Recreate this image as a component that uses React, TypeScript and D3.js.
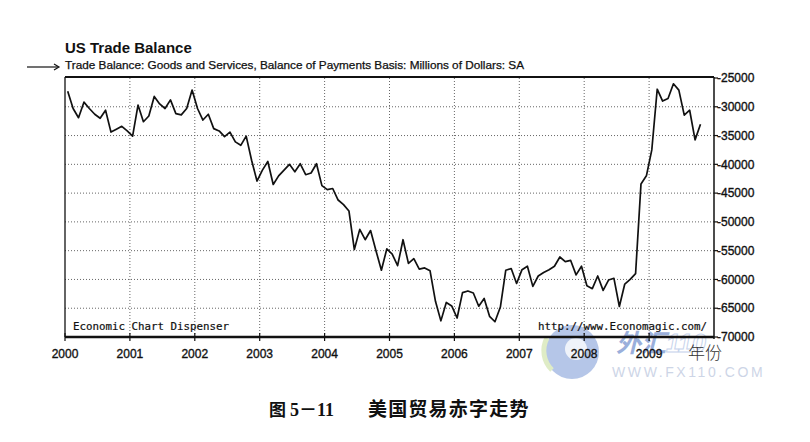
import React from "react";
import * as d3 from "d3";

// monthly trade balance, millions of dollars
const y2000 = [-27300, -30300, -31900, -29200, -30300, -31300, -32000, -30600, -34400, -33900, -33400, -34200];
const y2001 = [-35100, -29700, -32600, -31600, -28200, -29500, -30300, -28800, -31200, -31400, -30300, -27100];
const y2002 = [-30300, -32300, -31300, -33800, -34200, -35200, -34400, -36100, -36700, -35100, -39300, -42900];
const y2003 = [-41000, -39500, -43500, -42000, -41000, -40000, -41300, -39900, -41800, -41500, -39900, -43700];
const y2004 = [-44400, -44200, -46200, -47000, -48100, -54800, -51300, -53100, -51500, -55000, -58400, -54700];
const y2005 = [-55600, -57600, -53100, -57200, -56400, -58200, -58000, -58500, -63800, -67200, -64000, -64600];
const y2006 = [-66700, -62300, -62000, -62350, -64650, -63300, -66400, -67350, -64800, -58400, -58100, -60700];
const y2007 = [-58300, -57700, -61200, -59400, -58800, -58300, -57700, -56100, -56900, -56700, -59200, -57700];
const y2008 = [-61100, -61600, -59400, -61900, -60100, -59800, -64700, -60800, -60000, -59000, -43400, -42000];
const y2009 = [-37500, -26950, -29000, -28550, -26000, -27100, -31450, -30600, -35750, -33050];

const firstYear = 2000;
const yearTicks = [2000, 2001, 2002, 2003, 2004, 2005, 2006, 2007, 2008, 2009];
const valueTicks = [-25000, -30000, -35000, -40000, -45000, -50000, -55000, -60000, -65000, -70000];

const title = "US Trade Balance";
const seriesName =
  "Trade Balance: Goods and Services, Balance of Payments Basis: Millions of Dollars: SA";

const monthly = [y2000, y2001, y2002, y2003, y2004, y2005, y2006, y2007, y2008, y2009].flat();

const W = 810;
const H = 442;
const plot = { left: 65, right: 714, top: 78, bottom: 337 };
const sans = "'Liberation Sans', Arial, sans-serif";
const mono = "'DejaVu Sans Mono', 'Liberation Mono', monospace";
const cjk = "'Noto Sans CJK SC', sans-serif";
const ink = "#111";

const App: React.FC = () => {
  const x = d3.scaleLinear().domain([2000, 2010]).range([plot.left, plot.right]);
  const y = d3.scaleLinear().domain([-70000, -25000]).range([plot.bottom, plot.top]);

  const line = d3
    .line<number>()
    .x((_, i) => x(firstYear + (i + 0.5) / 12))
    .y((d) => y(d));

  return (
    <div style={{ position: "absolute", left: 0, top: 0 }}>
      <svg width={W} height={H} style={{ display: "block", background: "#fff" }}>
        {/* watermark */}
        <g opacity={0.65}>
          <circle cx={572} cy={352} r={27} fill="#8fa9dc" />
          <path d="M552,370 A27,27 0 0 1 547,338" fill="none" stroke="#cfe3a8" strokeWidth={5} />
          <circle cx={576} cy={349} r={11} fill="#e8eef8" />
          <text x={616} y={352} fontFamily={cjk} fontWeight={700} fontStyle="italic" fontSize={25} fill="#6585c8">
            外汇
          </text>
          <text x={666} y={352} fontFamily={sans} fontWeight={700} fontStyle="italic" fontSize={25} fill="#fff" stroke="#a9bde3" strokeWidth={1}>
            110
          </text>
          <text x={612} y={377} fontFamily={sans} fontSize={14} letterSpacing={2.6} fill="#b3c0da">
            WWW.FX110.COM
          </text>
        </g>

        {/* title and legend */}
        <text x={65} y={52.5} fontFamily={sans} fontWeight={700} fontSize={15} fill={ink}>
          {title}
        </text>
        <line x1={27} y1={67} x2={58} y2={67} stroke={ink} strokeWidth={1.2} />
        <path d="M54,64 L59,67 L54,70" fill="none" stroke={ink} strokeWidth={1.2} />
        <text x={65} y={69} fontFamily={sans} fontSize={11} fill={ink} stroke={ink} strokeWidth={0.25} textLength={459} lengthAdjust="spacingAndGlyphs">
          {seriesName}
        </text>

        {/* grid */}
        {valueTicks.slice(1, -1).map((v) => (
          <line key={`h${v}`} x1={plot.left} x2={plot.right} y1={y(v)} y2={y(v)} stroke="#666" strokeDasharray="1 2" />
        ))}
        {yearTicks.slice(1).map((yr) => (
          <line key={`v${yr}`} x1={x(yr)} x2={x(yr)} y1={plot.top} y2={plot.bottom} stroke="#666" strokeDasharray="1 2" />
        ))}

        {/* frame */}
        <line x1={plot.left} x2={plot.right} y1={plot.top - 1} y2={plot.top - 1} stroke={ink} strokeWidth={2} />
        <line x1={plot.left} x2={plot.left} y1={plot.top - 1} y2={plot.bottom} stroke={ink} strokeWidth={1.3} />
        <line x1={plot.right} x2={plot.right} y1={plot.top - 1} y2={plot.bottom + 2} stroke={ink} strokeWidth={1.5} />
        <line x1={plot.left} x2={plot.right} y1={plot.bottom} y2={plot.bottom} stroke={ink} strokeWidth={2.5} />

        {/* series */}
        <path d={line(monthly) ?? ""} fill="none" stroke={ink} strokeWidth={1.7} strokeLinejoin="round" />

        {/* footnotes inside plot */}
        <text x={73} y={329.5} fontFamily={mono} fontSize={10.8} fill={ink} stroke={ink} strokeWidth={0.2}>
          Economic Chart Dispenser
        </text>
        <text x={538} y={329.5} fontFamily={mono} fontSize={10.8} fill={ink} stroke={ink} strokeWidth={0.2}>
          http://www.Economagic.com/
        </text>

        {/* x axis */}
        {yearTicks.map((yr) => (
          <g key={`x${yr}`}>
            <line x1={x(yr)} x2={x(yr)} y1={plot.bottom - 4} y2={plot.bottom + 4} stroke={ink} strokeWidth={1.2} />
            <text x={x(yr)} y={358} textAnchor="middle" fontFamily={sans} fontSize={12} fill={ink} stroke={ink} strokeWidth={0.35}>
              {yr}
            </text>
          </g>
        ))}

        {/* right y axis */}
        {valueTicks.map((v) => (
          <g key={`y${v}`}>
            <line x1={plot.right} x2={plot.right + 4} y1={y(v)} y2={y(v)} stroke={ink} strokeWidth={1.2} />
            <text x={plot.right + 3} y={y(v)} dy="0.35em" fontFamily={sans} fontSize={12} fill={ink} stroke={ink} strokeWidth={0.35}>
              {String(v)}
            </text>
          </g>
        ))}

        <text x={688} y={359} fontFamily={cjk} fontWeight={300} fontSize={17} fill="#333">
          年份
        </text>

        {/* caption */}
        <text x={269} y={416} fontFamily={cjk} fontWeight={700} fontSize={17} fill={ink}>
          图
        </text>
        <text x={290} y={416} fontFamily={`'Liberation Serif', ${cjk}`} fontWeight={700} fontSize={18} fill={ink}>
          5－11
        </text>
        <text x={368} y={416} fontFamily={cjk} fontWeight={700} fontSize={19} letterSpacing={1.2} fill={ink}>
          美国贸易赤字走势
        </text>
      </svg>
    </div>
  );
};

export default App;
